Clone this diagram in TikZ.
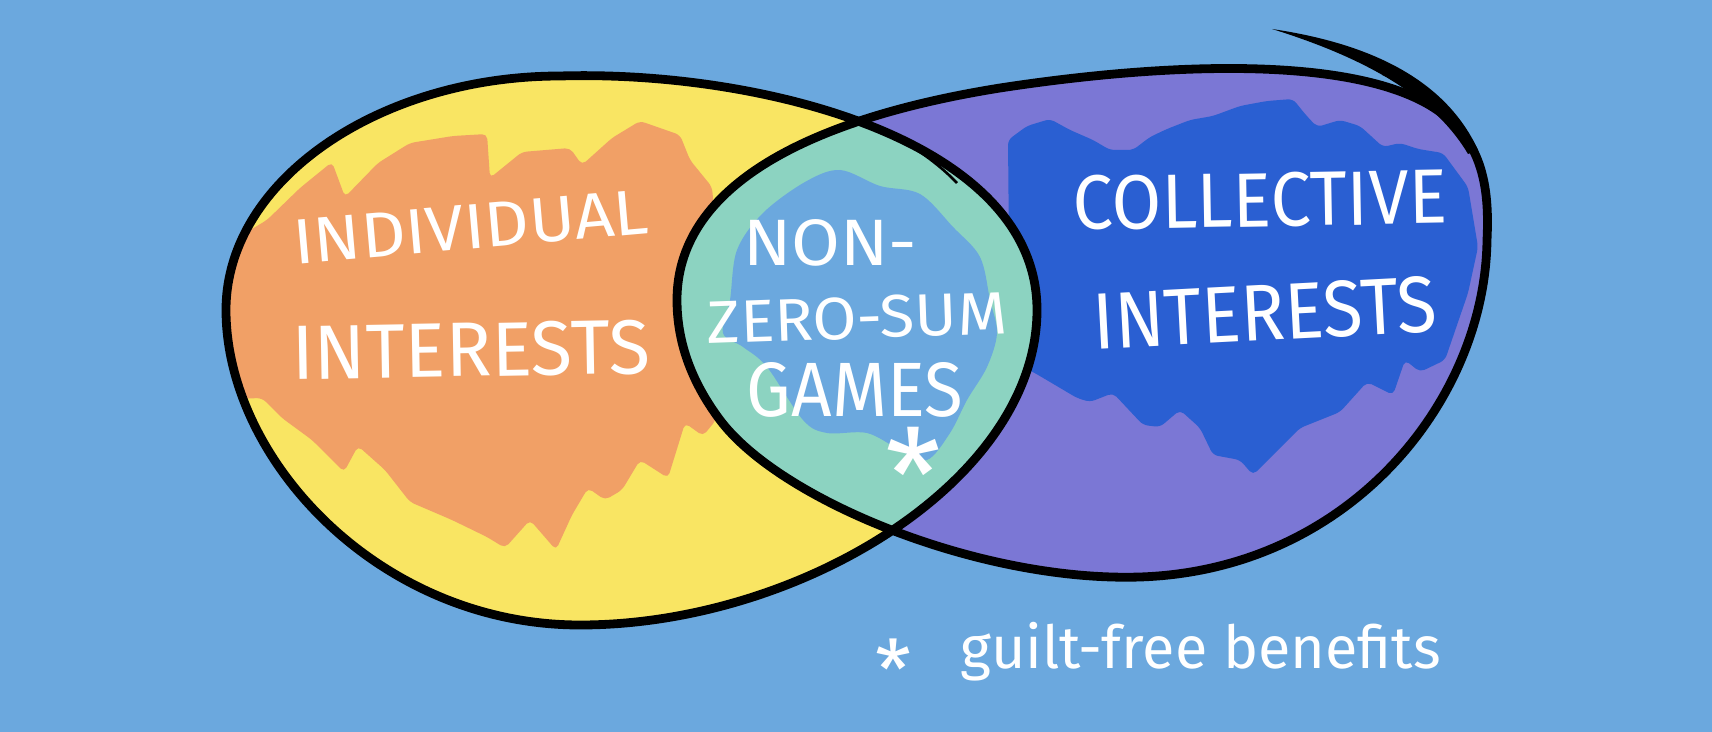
\documentclass[tikz,border=0pt]{standalone}
\usepackage{fontspec}
\setmainfont{Fira Sans}
\usepackage{graphicx}
\definecolor{bgblue}{HTML}{6BA8DE}
\definecolor{venyellow}{HTML}{F9E563}
\definecolor{venorange}{HTML}{F1A066}
\definecolor{venpurple}{HTML}{7B77D5}
\definecolor{vendark}{HTML}{2A5FD2}
\definecolor{venteal}{HTML}{8CD3C1}
\def\leftshape{(226,310) .. controls (226,180) and (380,76) .. (560,76) .. controls (760,70) and (1037,140) .. (1037,310) .. controls (1037,480) and (800,625) .. (580,625) .. controls (380,625) and (226,460) .. (226,310) -- cycle}
\def\rightshape{(677,300) .. controls (677,190) and (800,120) .. (1000,88) .. controls (1150,65) and (1330,55) .. (1420,100) .. controls (1480,130) and (1490,180) .. (1487,240) .. controls (1485,400) and (1350,570) .. (1140,577) .. controls (980,582) and (780,500) .. (720,420) .. controls (690,380) and (677,340) .. (677,300) -- cycle}
\tikzset{
  outline/.style={draw=black, line width=4.4pt},
  lbl/.style={text=white, inner sep=0pt},
  blob/.style={rounded corners=2.5pt}
}
\begin{document}
\begin{tikzpicture}[x=0.5pt, y=-0.5pt]
\fill[bgblue] (0,0) rectangle (1712,732);
\useasboundingbox (0,0) rectangle (1712,732);
% base fills
\fill[venyellow] \leftshape;
\fill[venpurple] \rightshape;
% orange blob
\begin{scope}
\clip \leftshape;
\fill[venorange, blob] (200,260) -- (267,220) -- (300,188) -- (332,162) -- (345,197) -- (378,163) -- (410,143) -- (453,136) -- (487,134) -- (490,178) -- (522,152) -- (570,148) -- (582,165) -- (612,138) -- (640,121) -- (680,135) -- (690,160) -- (712,187) -- (716,233) -- (716,420) -- (703,436) -- (685,423) -- (668,478) -- (640,460) -- (622,490) -- (605,500) -- (588,488) -- (572,515) -- (556,550) -- (530,520) -- (505,548) -- (487,537) -- (452,520) -- (410,502) -- (385,470) -- (358,446) -- (344,472) -- (312,440) -- (282,418) -- (262,398) -- (200,400) -- cycle;
\end{scope}
% dark blue blob
\begin{scope}
\clip \rightshape;
\fill[vendark, blob] (1008,140) -- (1027,126) -- (1050,119) -- (1070,130) -- (1093,140) -- (1110,150) -- (1133,150) -- (1150,137) -- (1167,129) -- (1190,120) -- (1213,116) -- (1240,106) -- (1267,101) -- (1293,99) -- (1305,114) -- (1317,127) -- (1340,120) -- (1360,126) -- (1383,147) -- (1400,143) -- (1418,149) -- (1443,153) -- (1468,187) -- (1478,247) -- (1468,293) -- (1445,360) -- (1420,372) -- (1405,360) -- (1393,395) -- (1367,382) -- (1340,412) -- (1300,428) -- (1273,455) -- (1253,475) -- (1240,460) -- (1213,455) -- (1200,428) -- (1180,410) -- (1160,427) -- (1143,425) -- (1113,393) -- (1090,402) -- (1077,398) -- (1050,382) -- (1033,372) -- (1010,362) -- cycle;
\end{scope}
% lens
\begin{scope}
\clip \leftshape;
\fill[venteal] \rightshape;
\fill[bgblue] plot[smooth cycle, tension=0.55] coordinates {(840,170) (880,186) (920,194) (953,227) (980,257) (990,300) (997,333) (987,367) (967,400) (950,433) (927,460) (900,450) (867,433) (827,433) (803,420) (767,367) (743,347) (723,333) (730,300) (737,250) (763,213) (805,182)};
\end{scope}
% outlines
\draw[outline] \leftshape;
\draw[outline] \rightshape;
\fill[black] (1272,29) .. controls (1380,45) and (1448,85) .. (1478,150) -- (1468,154) .. controls (1436,100) and (1372,60) .. cycle;
\draw[black, line width=1.3pt] (1383,74) .. controls (1430,90) and (1455,110) .. (1462,130);
\draw[black, line width=1.3pt] (872,126) .. controls (905,140) and (935,160) .. (957,183);
% texts
\node[lbl, rotate=5] (indiv) at (471,227) {\resizebox{178pt}{22pt}{INDIVIDUAL}};
\node[lbl, rotate=1] (intl) at (471,350) {\resizebox{179pt}{27pt}{INTERESTS}};
\node[lbl] (non) at (830,243) {\resizebox{87pt}{23pt}{NON-}};
\node[lbl, rotate=2] (zero) at (857,318) {\resizebox{150pt}{21pt}{ZERO-SUM}};
\node[lbl] (games) at (855,390) {\resizebox{108pt}{27pt}{GAMES}};
\node[lbl] (star) at (913,474) {\resizebox{28pt}{!}{*}};
\node[lbl, rotate=1] (coll) at (1260,200) {\resizebox{187pt}{27pt}{COLLECTIVE}};
\node[lbl, rotate=3] (intr) at (1265,313) {\resizebox{172pt}{28pt}{INTERESTS}};
\node[lbl] (footstar) at (893,669) {\resizebox{18pt}{!}{*}};
\node[lbl] (foot) at (1201,652) {\resizebox{240pt}{!}{guilt-free benefits}};
\end{tikzpicture}
\end{document}
